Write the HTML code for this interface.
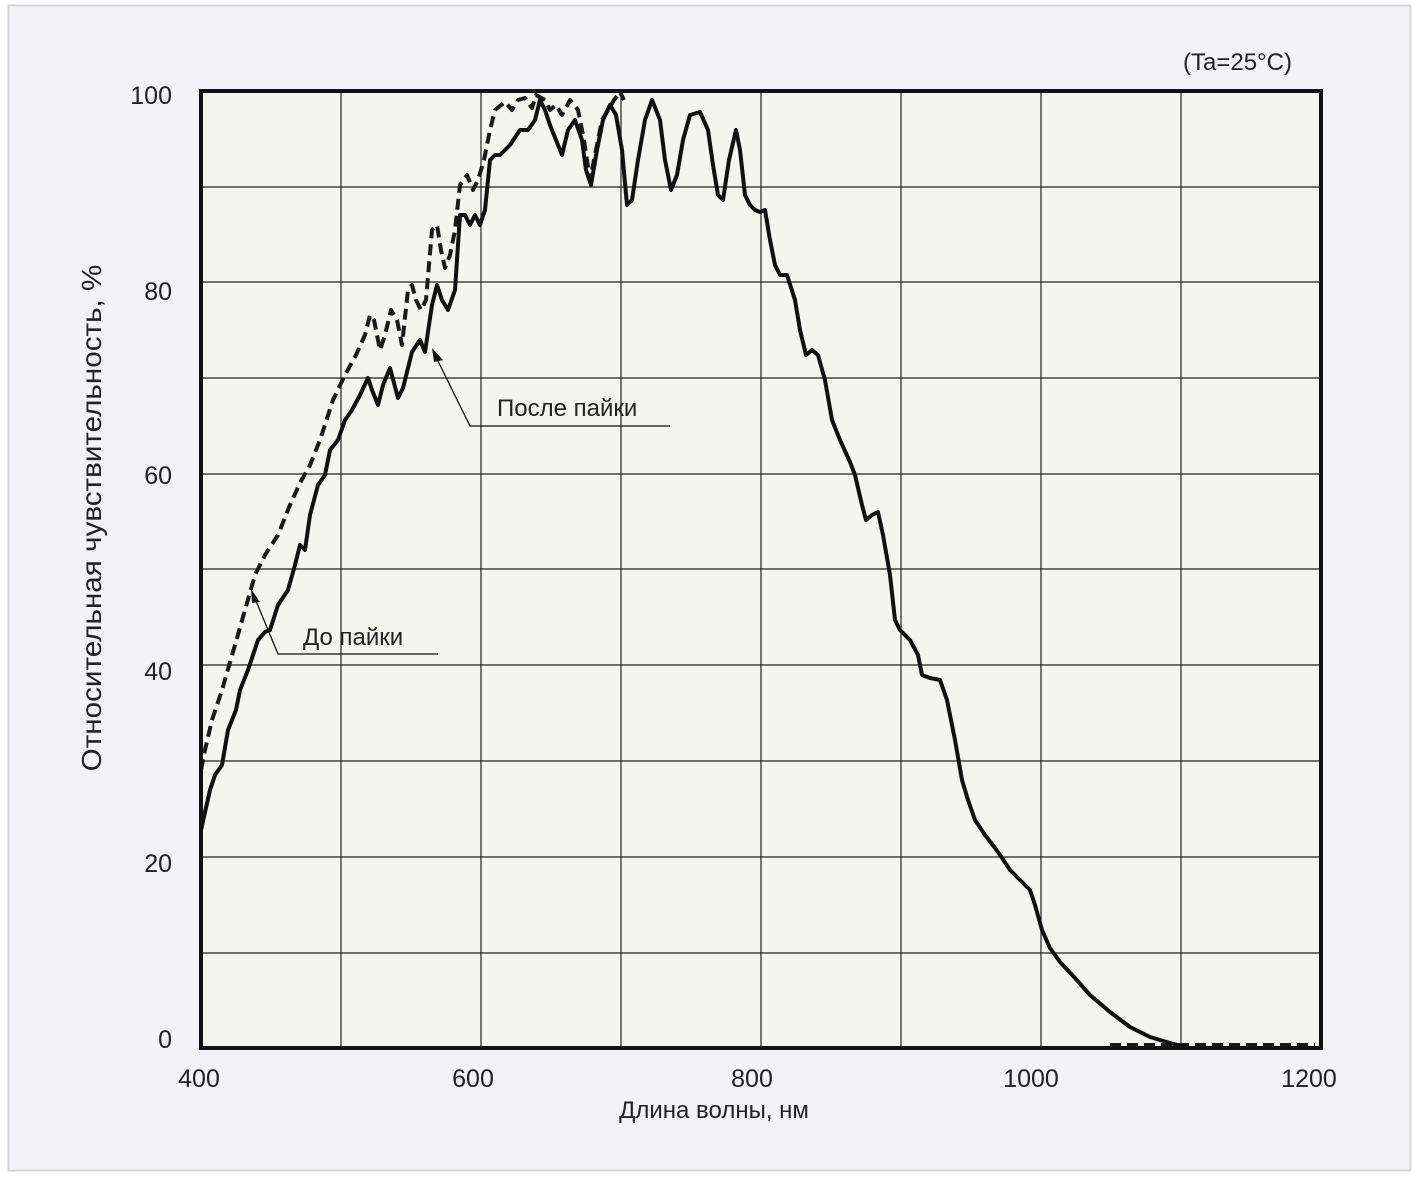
<!DOCTYPE html>
<html><head><meta charset="utf-8"><style>
html,body{margin:0;padding:0;background:#fff;}
svg{display:block;font-family:"Liberation Sans",sans-serif;}
</style></head><body>
<svg width="1417" height="1178" viewBox="0 0 1417 1178">
<rect x="0" y="0" width="1417" height="1178" fill="#fff"/>
<rect x="8.5" y="5.5" width="1402" height="1165" fill="#f2f2f7" stroke="#d4d4d6" stroke-width="2"/>
<rect x="201" y="91" width="1120" height="957" fill="#f5f5ef"/>
<g stroke="#222" stroke-width="1.2">
<line x1="201" y1="187" x2="1321" y2="187"/><line x1="201" y1="282" x2="1321" y2="282"/>
<line x1="201" y1="378" x2="1321" y2="378"/><line x1="201" y1="474" x2="1321" y2="474"/>
<line x1="201" y1="569" x2="1321" y2="569"/><line x1="201" y1="665" x2="1321" y2="665"/>
<line x1="201" y1="761" x2="1321" y2="761"/><line x1="201" y1="857" x2="1321" y2="857"/>
<line x1="201" y1="953" x2="1321" y2="953"/>
<line x1="341" y1="91" x2="341" y2="1048"/><line x1="481" y1="91" x2="481" y2="1048"/>
<line x1="621" y1="91" x2="621" y2="1048"/><line x1="761" y1="91" x2="761" y2="1048"/>
<line x1="901" y1="91" x2="901" y2="1048"/><line x1="1041" y1="91" x2="1041" y2="1048"/>
<line x1="1181" y1="91" x2="1181" y2="1048"/>
</g>
<polyline fill="none" stroke="#1a1a1a" stroke-width="4" stroke-dasharray="11,6" stroke-linejoin="round" points="201,770 205,750 212,720 222,690 235,645 245,610 255,575 265,555 278,535 290,505 300,483 310,465 320,440 333,400 345,375 356,355 365,335 370,315 374,320 380,350 385,335 391,310 397,320 402,345 408,290 412,285 416,300 421,310 426,300 432,230 437,225 441,250 445,268 450,255 455,230 460,185 467,175 473,190 478,180 484,160 490,130 495,110 505,102 512,110 518,100 525,98 532,108 536,95 545,100 550,110 556,105 562,115 570,100 578,110 584,140 590,180 596,150 602,120 608,110 614,100 620,92 624,100"/>
<polyline fill="none" stroke="#1a1a1a" stroke-width="4" stroke-dasharray="11,6" points="1110,1045 1315,1045"/>
<polyline fill="none" stroke="#111" stroke-width="4" stroke-linejoin="round" points="201,830 210,790 215,775 222,765 228,730 236,710 240,690 248,670 258,640 265,632 270,630 278,605 288,590 295,565 300,545 305,550 310,515 318,485 325,475 330,450 338,440 345,420 352,410 360,395 368,378 372,390 378,405 383,385 390,368 398,398 403,388 412,352 420,340 425,352 432,305 437,285 442,300 448,310 455,290 460,215 465,215 470,225 475,215 480,225 485,210 490,160 495,155 500,155 510,145 520,130 528,130 535,120 540,100 545,110 550,125 556,140 562,155 568,130 575,120 582,140 586,170 591,185 597,150 603,120 610,105 616,115 622,150 627,205 632,200 638,160 645,120 652,100 660,120 665,160 671,190 677,175 683,140 690,115 700,112 708,130 713,165 718,195 723,200 729,160 736,130 740,150 745,195 750,205 755,210 760,212 765,210 770,240 775,265 780,275 787,275 795,300 800,330 806,355 812,350 818,355 825,380 832,420 840,440 850,462 855,475 862,505 866,520 872,515 878,512 883,535 890,575 895,620 900,630 910,640 918,655 922,675 930,678 940,680 947,700 955,740 962,780 968,800 975,820 985,835 995,848 1000,855 1010,870 1020,880 1030,890 1035,905 1042,930 1050,948 1060,962 1075,978 1090,995 1110,1012 1130,1027 1150,1037 1170,1043 1185,1047"/>
<rect x="201" y="91" width="1120" height="957" fill="none" stroke="#111" stroke-width="4"/>
<g stroke="#111" stroke-width="1.3" fill="none">
<polyline points="670,426 470,426 435,355"/>
<polyline points="438,654 278,654 254,596"/>
</g>
<polygon points="432,348 443,360 434,362" fill="#111"/>
<polygon points="251,589 260,602 252,603" fill="#111"/>
<g font-size="24" fill="#222">
<text x="497" y="416">После пайки</text>
<text x="303" y="645">До пайки</text>
<text x="1183" y="70">(Ta=25°C)</text>
</g>
<g font-size="25" fill="#222" text-anchor="end">
<text x="172" y="104">100</text><text x="172" y="300">80</text><text x="172" y="484">60</text>
<text x="172" y="680">40</text><text x="172" y="872">20</text><text x="172" y="1048">0</text>
</g>
<g font-size="25" fill="#222" text-anchor="middle">
<text x="199" y="1087">400</text><text x="473" y="1087">600</text><text x="752" y="1087">800</text>
<text x="1031" y="1087">1000</text><text x="1309" y="1087">1200</text>
<text x="714" y="1118" font-size="24">Длина волны, нм</text>
<text transform="translate(101,518) rotate(-90) scale(1.14,1.05)" font-size="26">Относительная чувствительность, %</text>
</g>
</svg>
</body></html>
